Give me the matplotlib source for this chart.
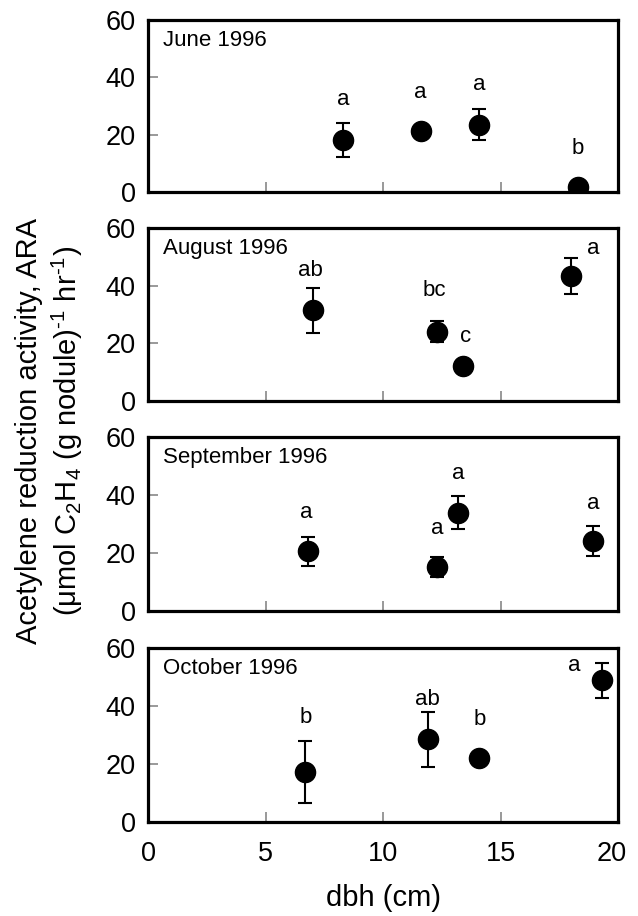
import matplotlib
matplotlib.use("Agg")
import matplotlib.pyplot as plt
from matplotlib.transforms import ScaledTranslation

plt.rcParams['font.family'] = ['Liberation Sans', 'DejaVu Sans']
plt.rcParams['mathtext.fontset'] = 'custom'
plt.rcParams['mathtext.rm'] = 'Liberation Sans'
plt.rcParams['mathtext.it'] = 'Liberation Sans'
plt.rcParams['mathtext.default'] = 'regular'

months = ["June 1996", "August 1996", "September 1996", "October 1996"]

# dbh (cm), ARA mean, error bar (SE)
june_x = [8.3, 11.6, 14.1, 18.3]
june_y = [18.0, 21.2, 23.5, 1.6]
june_err = [5.9, 0.0, 5.3, 0.0]
june_letters = ["a", "a", "a", "b"]
june_lx = [8.3, 11.6, 14.1, 18.3]
june_ly = [32.3, 34.6, 37.5, 15.3]

aug_x = [7.0, 12.3, 13.4, 18.0]
aug_y = [31.4, 24.1, 12.3, 43.4]
aug_err = [7.8, 3.6, 0.0, 6.2]
aug_letters = ["ab", "bc", "c", "a"]
aug_lx = [6.9, 12.2, 13.5, 18.95]
aug_ly = [45.2, 38.2, 22.5, 52.8]

sep_x = [6.8, 12.3, 13.2, 18.95]
sep_y = [20.6, 15.2, 33.9, 24.1]
sep_err = [5.0, 3.4, 5.7, 5.2]
sep_letters = ["a", "a", "a", "a"]
sep_lx = [6.75, 12.3, 13.2, 18.95]
sep_ly = [33.9, 28.4, 47.4, 37.1]

oct_x = [6.7, 11.9, 14.1, 19.3]
oct_y = [17.2, 28.5, 22.2, 48.8]
oct_err = [10.7, 9.5, 0.0, 6.1]
oct_letters = ["b", "ab", "b", "a"]
oct_lx = [6.7, 11.9, 14.1, 18.15]
oct_ly = [36.1, 42.4, 35.5, 53.9]

panels = [
    (june_x, june_y, june_err, june_letters, june_lx, june_ly),
    (aug_x, aug_y, aug_err, aug_letters, aug_lx, aug_ly),
    (sep_x, sep_y, sep_err, sep_letters, sep_lx, sep_ly),
    (oct_x, oct_y, oct_err, oct_letters, oct_lx, oct_ly),
]

W, H = 638, 916
fig = plt.figure(figsize=(W / 100, H / 100), dpi=100)

left, right = 148, 618
tops = [20, 228, 437, 648]
bottoms = [192, 401, 611, 822]

for i, (x, y, err, letters, lx, ly) in enumerate(panels):
    ax = fig.add_axes([left / W, 1 - bottoms[i] / H,
                       (right - left) / W, (bottoms[i] - tops[i]) / H])
    ax.errorbar(x, y, yerr=err, fmt='o', color='black', markersize=14.5,
                capsize=5, elinewidth=1.5, capthick=1.5, zorder=3)
    for lab, px, py in zip(letters, lx, ly):
        ax.text(px, py, lab, ha='center', va='center', fontsize=16)
    ax.text(0.031, 0.88, months[i], transform=ax.transAxes,
            ha='left', va='center', fontsize=16)
    ax.set_xlim(0, 20)
    ax.set_ylim(0, 60)
    ax.set_xticks([0, 5, 10, 15, 20])
    ax.set_yticks([0, 20, 40, 60])
    ax.tick_params(direction='in', length=7, width=1.2, color='#888888',
                   labelsize=19.5, pad=9)
    ax.tick_params(axis='x', pad=14)
    for s in ax.spines.values():
        s.set_linewidth(2.3)
        s.set_zorder(4)
    if i < 3:
        ax.tick_params(axis='x', labelbottom=False)
    else:
        ax.set_xlabel("dbh (cm)", fontsize=21, labelpad=12)
        # the last label sits a little inside the figure edge
        last = ax.get_xticklabels()[-1]
        last.set_transform(last.get_transform() +
                           ScaledTranslation(-6 / 100, 0, fig.dpi_scale_trans))

fig.text(50 / W, 1 - 431 / H,
         "Acetylene reduction activity, ARA\n"
         "(μmol C$_2$H$_4$ (g nodule)$^{\u20101}$ hr$^{\u20101}$)",
         rotation=90, ha='center', va='center', fontsize=21,
         multialignment='center', linespacing=1.25)

fig.savefig("out.png", dpi=100)
